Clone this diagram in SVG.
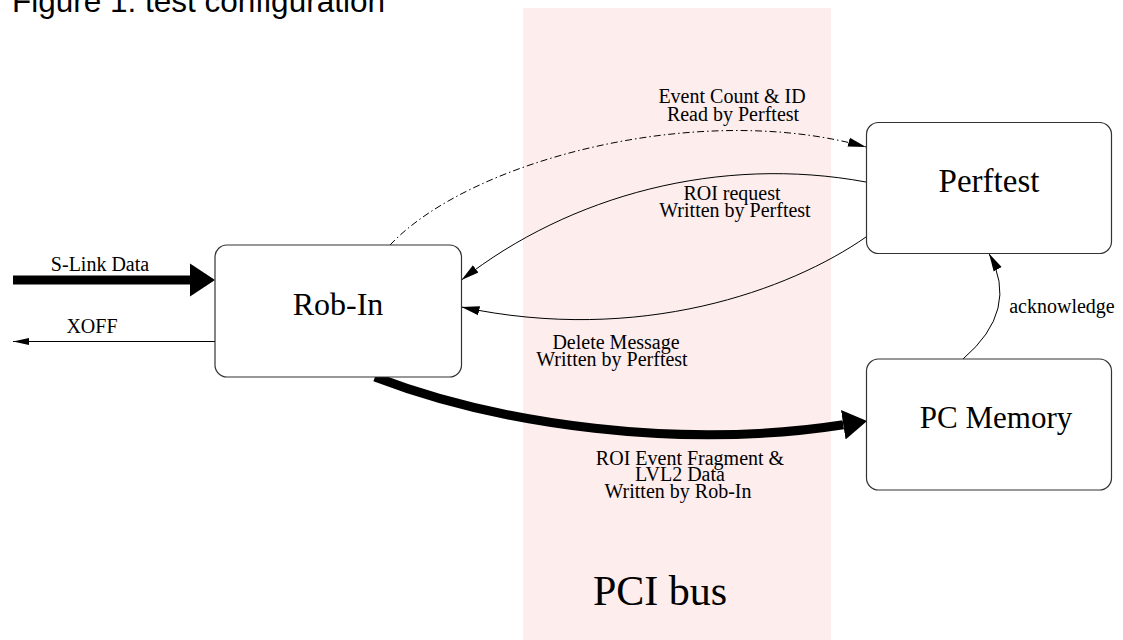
<svg xmlns="http://www.w3.org/2000/svg" width="1123" height="640" viewBox="0 0 1123 640">
<style>
.box{fill:#fff;stroke:#333;stroke-width:1.2}
.lbl{font-family:"Liberation Serif","Times New Roman",serif;font-size:20px;fill:#000;text-anchor:middle}
.big{font-family:"Liberation Serif","Times New Roman",serif;fill:#000;text-anchor:middle}
.thin{fill:none;stroke:#000;stroke-width:1}
.thick{fill:none;stroke:#000;stroke-width:9}
</style>
<defs>
<marker id="ah" markerUnits="userSpaceOnUse" markerWidth="20" markerHeight="12" refX="18" refY="5" orient="auto" viewBox="0 0 20 10">
<path d="M0,0.5 L18,5 L0,9.5 Z" fill="#000"/>
</marker>
<marker id="ahs" markerUnits="userSpaceOnUse" markerWidth="18" markerHeight="10" refX="16" refY="4" orient="auto" viewBox="0 0 18 8">
<path d="M0,0.5 L16,4 L0,7.5 Z" fill="#000"/>
</marker>
<marker id="big" markerUnits="userSpaceOnUse" markerWidth="26" markerHeight="34" refX="0" refY="16.5" orient="auto" viewBox="0 0 26 33">
<path d="M0,0 L25,16.5 L0,33 Z" fill="#000"/>
</marker>
<marker id="big2" markerUnits="userSpaceOnUse" markerWidth="26" markerHeight="32" refX="0" refY="15" orient="auto" viewBox="0 0 26 30">
<path d="M0,0 L24,15 L0,30 Z" fill="#000"/>
</marker>
</defs>
<rect id="pci-bus" x="523" y="8" width="308" height="632" fill="#fdeded"/>
<text id="title" x="12" y="12" font-family="'Liberation Sans',Arial,sans-serif" font-size="31.5" fill="#000">Figure 1: test configuration</text>
<text x="660" y="605" class="big" font-size="42">PCI bus</text>
<g id="connectors">
<path class="thick" d="M13,280 L190,280" marker-end="url(#big)"/>
<text class="lbl" x="100" y="271">S-Link Data</text>
<path class="thin" d="M215,341.5 L13,341.5" marker-end="url(#ahs)"/>
<text class="lbl" x="92" y="333">XOFF</text>
<path class="thin" stroke-dasharray="7 3 1.5 3" d="M390,245 C470,160 700,100 866,147" marker-end="url(#ah)"/>
<text class="lbl" x="732" y="103">Event Count &amp; ID</text>
<text class="lbl" x="733" y="121">Read by Perftest</text>
<path class="thin" d="M866,182 C720,155 570,195 461.5,280" marker-end="url(#ah)"/>
<text class="lbl" x="732" y="200">ROI request</text>
<text class="lbl" x="735" y="217">Written by Perftest</text>
<path class="thin" d="M866,237 C790,290 640,345 461.5,307" marker-end="url(#ah)"/>
<text class="lbl" x="616" y="349">Delete Message</text>
<text class="lbl" x="612" y="366">Written by Perftest</text>
<path class="thick" d="M375,377 C500,425 680,450 843.3,424.7" marker-end="url(#big2)"/>
<text class="lbl" x="690" y="465">ROI Event Fragment &amp;</text>
<text class="lbl" x="680" y="481">LVL2 Data</text>
<text class="lbl" x="678" y="498">Written by Rob-In</text>
<path class="thin" d="M963,359 Q1020,310 989,253.5" marker-end="url(#ah)"/>
<text class="lbl" x="1062" y="313">acknowledge</text>
</g>
<g id="rob-in">
<rect class="box" x="215" y="245" width="246.5" height="132" rx="12"/>
<text class="big" x="338" y="315" font-size="32">Rob-In</text>
</g>
<g id="perftest">
<rect class="box" x="866.5" y="122.5" width="245" height="131" rx="12"/>
<text class="big" x="989" y="192" font-size="33">Perftest</text>
</g>
<g id="pc-memory">
<rect class="box" x="866.5" y="359" width="245" height="131" rx="12"/>
<text class="big" x="996" y="428" font-size="31">PC Memory</text>
</g>
</svg>
